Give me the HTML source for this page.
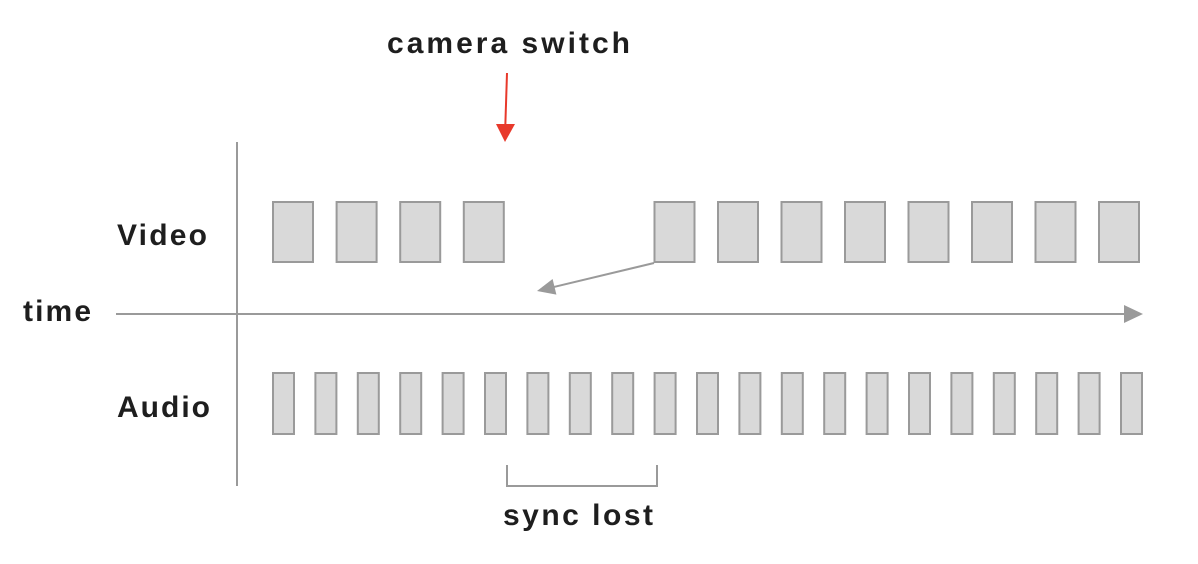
<!DOCTYPE html>
<html>
<head>
<meta charset="utf-8">
<style>
  html, body { margin: 0; padding: 0; background: #ffffff; }
  body { width: 1198px; height: 564px; overflow: hidden; }
  svg { display: block; }
  text { font-family: "Liberation Sans", Arial, sans-serif; font-weight: bold; font-size: 30px; fill: #1e1e1e; }
</style>
</head>
<body>
<svg width="1198" height="564" viewBox="0 0 1198 564" xmlns="http://www.w3.org/2000/svg">
  <!-- labels -->
  <text x="387" y="53" textLength="243" lengthAdjust="spacing">camera switch</text>
  <text x="117" y="245" textLength="90" lengthAdjust="spacing">Video</text>
  <text x="23" y="321" textLength="68" lengthAdjust="spacing">time</text>
  <text x="117" y="417" textLength="93" lengthAdjust="spacing">Audio</text>
  <text x="503" y="525" textLength="150" lengthAdjust="spacing">sync lost</text>

  <!-- axes -->
  <line x1="237" y1="142" x2="237" y2="486" stroke="#9a9a9a" stroke-width="2"/>
  <line x1="116" y1="314" x2="1126" y2="314" stroke="#9a9a9a" stroke-width="2"/>
  <polygon points="1124,305 1143,314 1124,323" fill="#9a9a9a"/>

  <!-- red arrow -->
  <line x1="507" y1="73" x2="505.3" y2="126" stroke="#e8392b" stroke-width="2"/>
  <polygon points="496,124 515,124 505,142" fill="#e8392b"/>

  <!-- video frames -->
  <g fill="#d9d9d9" stroke="#9a9a9a" stroke-width="2">
    <rect x="273" y="202" width="40" height="60"/>
    <rect x="336.6" y="202" width="40" height="60"/>
    <rect x="400.2" y="202" width="40" height="60"/>
    <rect x="463.8" y="202" width="40" height="60"/>

    <rect x="654.5" y="202" width="40" height="60"/>
    <rect x="718" y="202" width="40" height="60"/>
    <rect x="781.5" y="202" width="40" height="60"/>
    <rect x="845" y="202" width="40" height="60"/>
    <rect x="908.5" y="202" width="40" height="60"/>
    <rect x="972" y="202" width="40" height="60"/>
    <rect x="1035.5" y="202" width="40" height="60"/>
    <rect x="1099" y="202" width="40" height="60"/>
  </g>

  <!-- gray arrow -->
  <line x1="654" y1="263" x2="553" y2="287.2" stroke="#9a9a9a" stroke-width="2"/>
  <polygon points="537,291 556.4,294.6 552.6,279" fill="#9a9a9a"/>

  <!-- audio frames -->
  <g fill="#d9d9d9" stroke="#9a9a9a" stroke-width="2">
    <rect x="273" y="373" width="21" height="61"/>
    <rect x="315.4" y="373" width="21" height="61"/>
    <rect x="357.8" y="373" width="21" height="61"/>
    <rect x="400.2" y="373" width="21" height="61"/>
    <rect x="442.6" y="373" width="21" height="61"/>
    <rect x="485" y="373" width="21" height="61"/>
    <rect x="527.4" y="373" width="21" height="61"/>
    <rect x="569.8" y="373" width="21" height="61"/>
    <rect x="612.2" y="373" width="21" height="61"/>
    <rect x="654.6" y="373" width="21" height="61"/>
    <rect x="697" y="373" width="21" height="61"/>
    <rect x="739.4" y="373" width="21" height="61"/>
    <rect x="781.8" y="373" width="21" height="61"/>
    <rect x="824.2" y="373" width="21" height="61"/>
    <rect x="866.6" y="373" width="21" height="61"/>
    <rect x="909" y="373" width="21" height="61"/>
    <rect x="951.4" y="373" width="21" height="61"/>
    <rect x="993.8" y="373" width="21" height="61"/>
    <rect x="1036.2" y="373" width="21" height="61"/>
    <rect x="1078.6" y="373" width="21" height="61"/>
    <rect x="1121" y="373" width="21" height="61"/>
  </g>

  <!-- bracket -->
  <path d="M507 465 V486 H657 V465" fill="none" stroke="#9a9a9a" stroke-width="2"/>
</svg>
</body>
</html>
